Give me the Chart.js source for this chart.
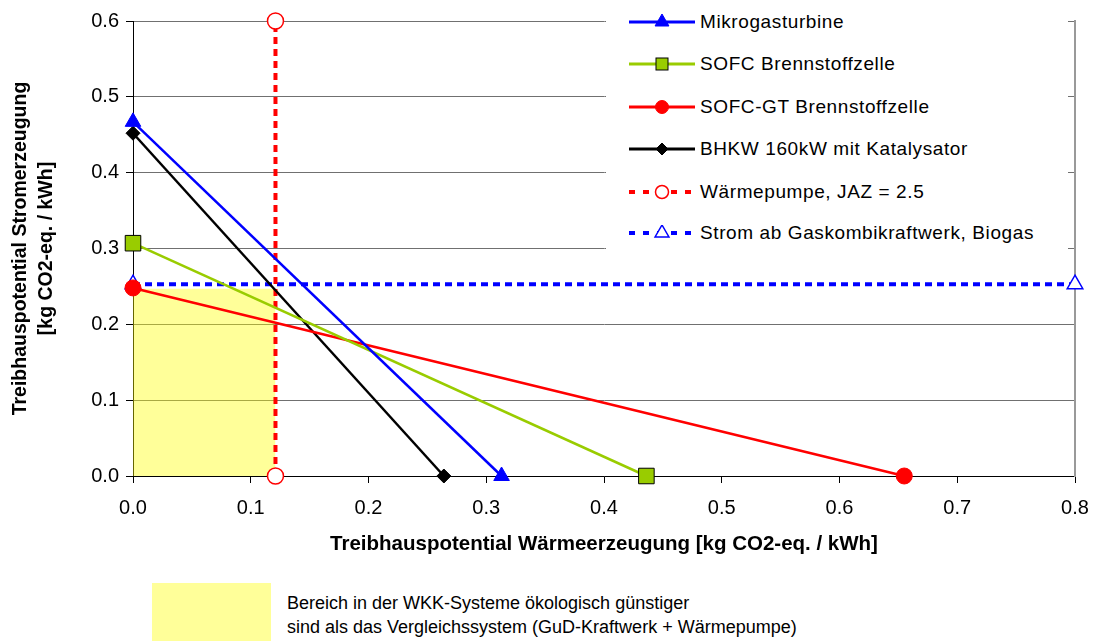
<!DOCTYPE html>
<html>
<head>
<meta charset="utf-8">
<script src="https://cdn.jsdelivr.net/npm/chart.js@4.4.0/dist/chart.umd.min.js"></script>
<style>
  body { margin: 0; background: #fff; font-family: "Liberation Sans", Arial, sans-serif; }
  #wrap { position: relative; width: 1093px; height: 642px; }
  #legend { position: absolute; left: 606px; top: 0; width: 462px; height: 256px; background: #fff; }
  .item { position: absolute; left: 0; width: 462px; height: 22px; font-size: 19px; letter-spacing: 0.6px; line-height: 22px; color: #000; }
  .item svg { position: absolute; left: 23px; top: 3px; }
  .item span { position: absolute; left: 94px; white-space: nowrap; }
  #note { position: absolute; left: 152px; top: 583px; width: 119px; height: 58px; background: #ffff99; }
  #noteText { position: absolute; left: 287px; top: 591px; font-size: 18px; line-height: 24px; white-space: nowrap; }
</style>
</head>
<body>
<div id="wrap">
  <canvas id="lcaChart" width="1093" height="570"></canvas>
  <div id="legend"></div>
  <div id="note"></div>
  <div id="noteText">Bereich in der WKK-Systeme ökologisch günstiger<br>sind als das Vergleichssystem (GuD-Kraftwerk + Wärmepumpe)</div>
</div>
<script>
// values: [heat, power] in kg CO2-eq. / kWh
var seriesNames = ["Mikrogasturbine", "SOFC Brennstoffzelle", "SOFC-GT Brennstoffzelle",
                   "BHKW 160kW mit Katalysator", "Wärmepumpe, JAZ = 2.5",
                   "Strom ab Gaskombikraftwerk, Biogas"];
var mikroX = [0, 0.313],   mikroY = [0.467, 0];
var sofcX = [0, 0.436],    sofcY = [0.307, 0];
var sofcGtX = [0, 0.655],  sofcGtY = [0.248, 0];
var bhkwX = [0, 0.264],    bhkwY = [0.452, 0];
var wpX = [0.121, 0.121],  wpY = [0, 0.6];
var gudX = [0, 0.8],       gudY = [0.253, 0.253];
var areaX = [0, 0.121],    areaY = [0.247, 0.247];
var xTicks = [0, 0.1, 0.2, 0.3, 0.4, 0.5, 0.6, 0.7, 0.8];
var yTicks = [0, 0.1, 0.2, 0.3, 0.4, 0.5, 0.6];

function pts(xs, ys) {
    return xs.map(function (x, i) { return { x: x, y: ys[i] }; });
}

var styles = [
    { color: '#0000ff', fill: '#0000ff', marker: 'triangle', r: 9, dash: [] },
    { color: '#99cc00', fill: '#99cc00', edge: '#000000', marker: 'rect', r: 11, dash: [] },
    { color: '#ff0000', fill: '#ff0000', marker: 'circle', r: 8, dash: [] },
    { color: '#000000', fill: '#000000', marker: 'rectRot', r: 7, dash: [] },
    { color: '#ff0000', fill: '#ffffff', marker: 'circle', r: 8, dash: [7, 5] },
    { color: '#0000ff', fill: '#ffffff', marker: 'triangle', r: 9, dash: [7, 5] }
];
var lines = [pts(mikroX, mikroY), pts(sofcX, sofcY), pts(sofcGtX, sofcGtY),
             pts(bhkwX, bhkwY), pts(wpX, wpY), pts(gudX, gudY)];

var datasets = lines.map(function (d, i) {
    var s = styles[i];
    var dashed = s.dash.length > 0;
    return {
        label: seriesNames[i],
        data: d,
        showLine: true,
        borderColor: s.color,
        borderWidth: dashed ? 4 : 2.5,
        borderDash: s.dash,
        pointStyle: s.marker,
        pointRadius: s.r,
        pointBackgroundColor: s.fill,
        pointBorderColor: s.edge || s.color,
        pointBorderWidth: dashed ? 1.5 : 1,
        clip: false,
        order: i
    };
});
// yellow region (favourable area)
datasets.push({
    label: 'Bereich',
    data: pts(areaX, areaY),
    showLine: true,
    borderWidth: 0,
    borderColor: 'rgba(0,0,0,0)',
    pointRadius: 0,
    fill: 'origin',
    backgroundColor: 'rgba(255,255,0,0.4)',
    order: 20
});

Chart.defaults.font.family = '"Liberation Sans", Arial, sans-serif';
Chart.defaults.font.size = 20;
Chart.defaults.color = '#000';

new Chart(document.getElementById('lcaChart'), {
    type: 'scatter',
    data: { datasets: datasets },
    options: {
        responsive: false,
        animation: false,
        layout: { padding: { top: 21, right: 18, left: 0, bottom: 0 } },
        plugins: { legend: { display: false }, tooltip: { enabled: false } },
        scales: {
            x: {
                type: 'linear', min: 0, max: 0.8,
                afterBuildTicks: function (s) { s.ticks = xTicks.map(function (v) { return { value: v }; }); },
                afterFit: function (s) { s.height = 94; s.paddingLeft = 0; s.paddingRight = 0; },
                ticks: { padding: 13, callback: function (v) { return v.toFixed(1); } },
                grid: { drawOnChartArea: false, tickLength: 7, tickColor: '#000' },
                border: { color: '#000', width: 1 },
                title: {
                    display: true,
                    text: 'Treibhauspotential Wärmeerzeugung [kg CO2-eq. / kWh]',
                    font: { size: 20.5, weight: 'bold' },
                    padding: { top: 4, bottom: 13 }
                }
            },
            y: {
                type: 'linear', min: 0, max: 0.6,
                afterBuildTicks: function (s) { s.ticks = yTicks.map(function (v) { return { value: v }; }); },
                afterFit: function (s) { s.width = 133; s.paddingTop = 0; s.paddingBottom = 0; },
                ticks: { padding: 7, callback: function (v) { return v.toFixed(1); } },
                grid: { color: '#707070', tickLength: 7, tickColor: '#000' },
                border: { color: '#000', width: 1 },
                title: {
                    display: true,
                    text: ['Treibhauspotential Stromerzeugung', '[kg CO2-eq. / kWh]'],
                    font: { size: 19.5, weight: 'bold', lineHeight: 1.35 },
                    padding: { top: 7, bottom: 0 }
                }
            },
            y2: {
                type: 'linear', position: 'right', min: 0, max: 0.6,
                afterFit: function (s) { s.width = 0; },
                ticks: { display: false },
                grid: { display: false, drawTicks: false },
                border: { color: '#999', width: 2 }
            }
        }
    }
});

// legend with line + marker icons
var svgMarker = function (s, cx, cy) {
    var st = 'fill="' + s.fill + '" stroke="' + (s.edge || s.color) + '" stroke-width="' + (s.dash.length ? 1.5 : 1) + '"';
    if (s.marker === 'triangle') {
        var r = s.r - 1;
        return '<polygon points="' + cx + ',' + (cy - r) + ' ' + (cx + r * 0.866) + ',' + (cy + r / 2) + ' ' + (cx - r * 0.866) + ',' + (cy + r / 2) + '" ' + st + '/>';
    }
    if (s.marker === 'rect') {
        return '<rect x="' + (cx - 6) + '" y="' + (cy - 6) + '" width="12" height="12" ' + st + '/>';
    }
    if (s.marker === 'rectRot') {
        return '<polygon points="' + cx + ',' + (cy - 6) + ' ' + (cx + 6) + ',' + cy + ' ' + cx + ',' + (cy + 6) + ' ' + (cx - 6) + ',' + cy + '" ' + st + '/>';
    }
    return '<circle cx="' + cx + '" cy="' + cy + '" r="6.5" ' + st + '/>';
};
var rowTops = [11, 53, 96, 138, 181, 222];
var legend = document.getElementById('legend');
seriesNames.forEach(function (name, i) {
    var s = styles[i];
    var dash = s.dash.length ? ' stroke-dasharray="6 8"' : '';
    var w = s.dash.length ? 4 : 3;
    var div = document.createElement('div');
    div.className = 'item';
    div.style.top = rowTops[i] + 'px';
    div.innerHTML = '<svg width="66" height="16"><line x1="0" y1="8" x2="66" y2="8" stroke="' + s.color +
        '" stroke-width="' + w + '"' + dash + '/>' + svgMarker(s, 33, 8) + '</svg><span>' + name + '</span>';
    legend.appendChild(div);
});
</script>
</body>
</html>
